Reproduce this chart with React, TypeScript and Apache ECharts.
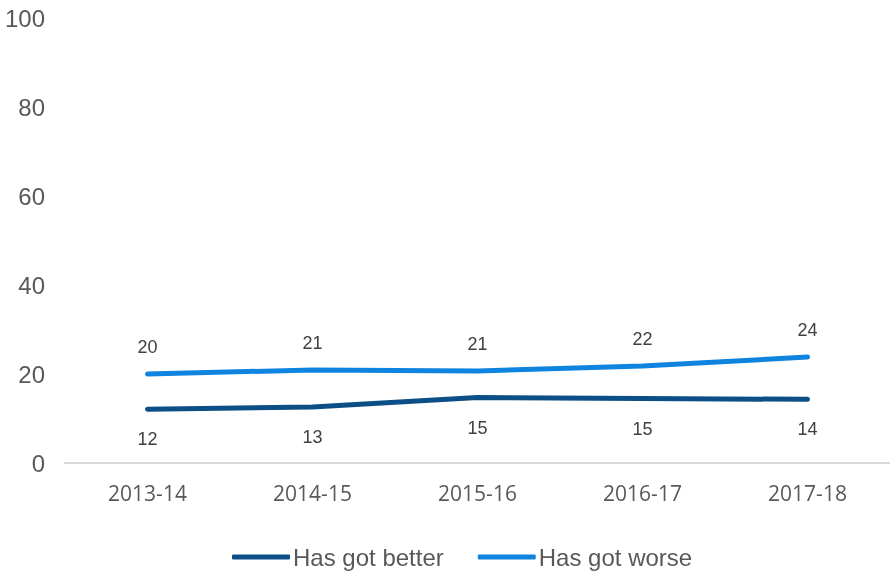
import React, { useEffect, useRef } from "react";
import * as echarts from "echarts";

const categories = ["2013-14", "2014-15", "2015-16", "2016-17", "2017-18"];
const betterValues = [12.1, 12.6, 14.7, 14.5, 14.3];
const worseValues = [20.0, 20.9, 20.7, 21.8, 23.8];
const yTicks = [0, 20, 40, 60, 80, 100];

const BETTER_COLOR = "#0b4f86";
const WORSE_COLOR = "#0f84de";

export default function App() {
  const ref = useRef<HTMLDivElement>(null);

  useEffect(() => {
    if (!ref.current) return;
    const chart = echarts.init(ref.current, null, { renderer: "svg" });
    const labelStyle = {
      show: true,
      fontFamily: "Liberation Sans, Arial, sans-serif",
      fontSize: 18,
      color: "#404040",
      formatter: (p: any) => String(Math.round(p.value)),
    };
    chart.setOption({
      animation: false,
      grid: { left: 65, right: 0, top: 18, bottom: 111, containLabel: false },
      legend: {
        bottom: 0,
        left: 227,
        itemWidth: 58,
        itemHeight: 5,
        itemGap: 34,
        icon: "roundRect",
        textStyle: {
          fontFamily: "Liberation Sans, Arial, sans-serif",
          fontSize: 24,
          color: "#595959",
          padding: [0, 0, 0, -2],
        },
        data: ["Has got better", "Has got worse"],
      },
      xAxis: {
        type: "category",
        data: categories,
        boundaryGap: true,
        axisLine: { show: true, lineStyle: { color: "#d9d9d9", width: 2 } },
        axisTick: { show: false },
        axisLabel: {
          fontFamily: "Open Sans, sans-serif",
          fontSize: 21,
          color: "#595959",
          margin: 19,
        },
      },
      yAxis: {
        type: "value",
        min: yTicks[0],
        max: yTicks[yTicks.length - 1],
        interval: 20,
        axisLine: { show: false },
        axisTick: { show: false },
        splitLine: { show: false },
        axisLabel: {
          fontFamily: "Liberation Sans, Arial, sans-serif",
          fontSize: 24,
          color: "#595959",
          margin: 20,
        },
      },
      series: [
        {
          name: "Has got better",
          type: "line",
          data: betterValues,
          symbol: "circle",
          symbolSize: 0.1,
          showSymbol: true,
          lineStyle: { color: BETTER_COLOR, width: 5, cap: "round" },
          itemStyle: { color: BETTER_COLOR },
          label: { ...labelStyle, position: "bottom", distance: 21 },
        },
        {
          name: "Has got worse",
          type: "line",
          data: worseValues,
          symbol: "circle",
          symbolSize: 0.1,
          showSymbol: true,
          lineStyle: { color: WORSE_COLOR, width: 5, cap: "round" },
          itemStyle: { color: WORSE_COLOR },
          label: { ...labelStyle, position: "top", distance: 18 },
        },
      ],
    });
    return () => chart.dispose();
  }, []);

  return (
    <div
      ref={ref}
      style={{ position: "fixed", left: 0, top: 0, width: 890, height: 574 }}
    />
  );
}
